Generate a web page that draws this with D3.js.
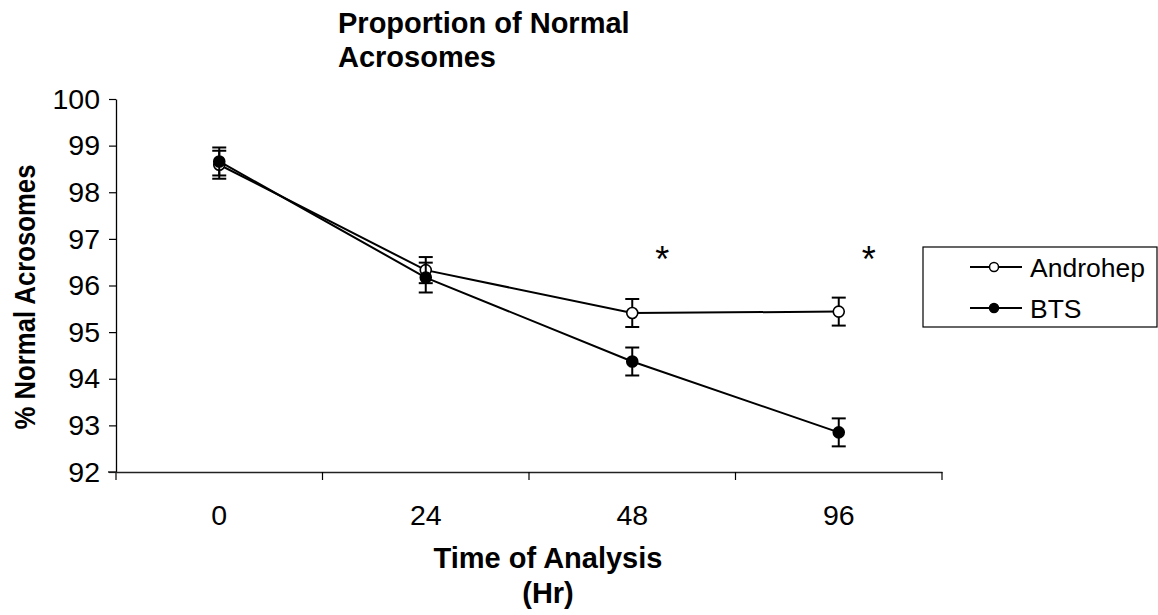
<!DOCTYPE html>
<html>
<head>
<meta charset="utf-8">
<script src="https://cdn.jsdelivr.net/npm/d3@7"></script>
<style>
  html, body { margin: 0; padding: 0; background: #fff; }
  svg { display: block; font-family: "Liberation Sans", Arial, sans-serif; }
</style>
</head>
<body>
<svg id="chart" width="1158" height="615"></svg>
<script>
// ---- data ----
const categories = ["0", "24", "48", "96"];
const androhepValues = [98.59, 96.33, 95.41, 95.44];
const androhepErr    = [0.30, 0.28, 0.30, 0.30];
const btsValues      = [98.66, 96.17, 94.37, 92.85];
const btsErr         = [0.30, 0.32, 0.30, 0.30];
const yTicks = [92, 93, 94, 95, 96, 97, 98, 99, 100];
const seriesNames = ["Androhep", "BTS"];
const asteriskCats = ["48", "96"];
const asteriskLevel = 96.72;

const svg = d3.select("#chart");
const font = '"Liberation Sans", Arial, sans-serif';

const x = d3.scaleBand().domain(categories).range([116, 942]).padding(0);
const y = d3.scaleLinear().domain([92, 100]).range([472, 99]);
const cx = c => x(c) + x.bandwidth() / 2;

// ---- y axis ----
const yAxis = svg.append("g")
  .attr("transform", "translate(116,0)")
  .call(d3.axisLeft(y).tickValues(yTicks).tickSize(7).tickPadding(9).tickSizeOuter(0));
yAxis.select(".domain").attr("stroke", "#000").attr("stroke-width", 1.3);
yAxis.selectAll(".tick line").attr("stroke", "#000").attr("stroke-width", 1.2);
yAxis.selectAll(".tick text").attr("font-size", 28.5).attr("font-family", font).attr("fill", "#000");

// ---- x axis ----
const xAxis = svg.append("g")
  .attr("transform", "translate(0,472)")
  .call(d3.axisBottom(x).tickSize(0).tickPadding(33).tickSizeOuter(0));
xAxis.select(".domain").attr("stroke", "#222").attr("stroke-width", 1.5);
xAxis.selectAll(".tick text").attr("font-size", 28.5).attr("font-family", font).attr("fill", "#000");
// boundary ticks between categories
const bounds = categories.map(c => x(c)).concat([x.range()[1]]);
xAxis.selectAll(".bound").data(bounds).enter().append("line")
  .attr("x1", d => d).attr("x2", d => d).attr("y1", 0).attr("y2", 8)
  .attr("stroke", "#000").attr("stroke-width", 1.2);
svg.append("line").attr("x1", 108).attr("x2", 116).attr("y1", 472).attr("y2", 472)
  .attr("stroke", "#222").attr("stroke-width", 1.5);

// ---- series ----
const series = [
  { name: seriesNames[0], values: androhepValues, err: androhepErr, fill: "#fff" },
  { name: seriesNames[1], values: btsValues, err: btsErr, fill: "#000" }
];
const line = d3.line().x((d, i) => cx(categories[i])).y(d => y(d));

series.forEach(s => {
  svg.append("path").datum(s.values).attr("d", line)
    .attr("fill", "none").attr("stroke", "#000").attr("stroke-width", 2);
});
series.forEach(s => {
  const g = svg.append("g");
  s.values.forEach((v, i) => {
    const px = cx(categories[i]);
    const top = y(v + s.err[i]), bot = y(v - s.err[i]);
    g.append("line").attr("x1", px).attr("x2", px).attr("y1", top).attr("y2", bot)
      .attr("stroke", "#000").attr("stroke-width", 2);
    [top, bot].forEach(yy => g.append("line")
      .attr("x1", px - 7).attr("x2", px + 7).attr("y1", yy).attr("y2", yy)
      .attr("stroke", "#000").attr("stroke-width", 2));
  });
  g.selectAll("circle").data(s.values).enter().append("circle")
    .attr("cx", (d, i) => cx(categories[i])).attr("cy", d => y(d)).attr("r", 5.5)
    .attr("fill", s.fill).attr("stroke", "#000").attr("stroke-width", 1.6);
});

// ---- asterisks ----
svg.selectAll(".ast").data(asteriskCats).enter().append("text")
  .attr("x", d => cx(d) + 30).attr("y", y(asteriskLevel) + 20)
  .attr("text-anchor", "middle").attr("font-size", 36).attr("font-family", font)
  .attr("fill", "#000").text("*");

// ---- titles ----
const title = svg.append("text").attr("font-size", 29).attr("font-weight", "bold")
  .attr("font-family", font).attr("fill", "#000");
title.append("tspan").attr("x", 338).attr("y", 33).text("Proportion of Normal");
title.append("tspan").attr("x", 338).attr("y", 67).text("Acrosomes");

const xt = svg.append("text").attr("font-size", 29).attr("font-weight", "bold")
  .attr("font-family", font).attr("fill", "#000").attr("text-anchor", "middle");
xt.append("tspan").attr("x", 548).attr("y", 568).text("Time of Analysis");
xt.append("tspan").attr("x", 548).attr("y", 603).text("(Hr)");

svg.append("text").attr("transform", "translate(35,297) rotate(-90)")
  .attr("text-anchor", "middle").attr("font-size", 29).attr("font-weight", "bold")
  .attr("font-family", font).attr("fill", "#000")
  .attr("textLength", 265).attr("lengthAdjust", "spacingAndGlyphs")
  .text("% Normal Acrosomes");

// ---- legend ----
const lg = svg.append("g");
lg.append("rect").attr("x", 923).attr("y", 247).attr("width", 234).attr("height", 80)
  .attr("fill", "#fff").attr("stroke", "#000").attr("stroke-width", 1.2);
const rowsY = [267, 308];
series.forEach((s, i) => {
  const yy = rowsY[i];
  lg.append("line").attr("x1", 970).attr("x2", 1022).attr("y1", yy).attr("y2", yy)
    .attr("stroke", "#000").attr("stroke-width", 2);
  lg.append("circle").attr("cx", 994).attr("cy", yy).attr("r", 4.5)
    .attr("fill", s.fill).attr("stroke", "#000").attr("stroke-width", 1.5);
  lg.append("text").attr("x", 1030).attr("y", yy + 9.5).attr("font-size", 26.5)
    .attr("font-family", font).attr("fill", "#000").text(s.name);
});
</script>
</body>
</html>
